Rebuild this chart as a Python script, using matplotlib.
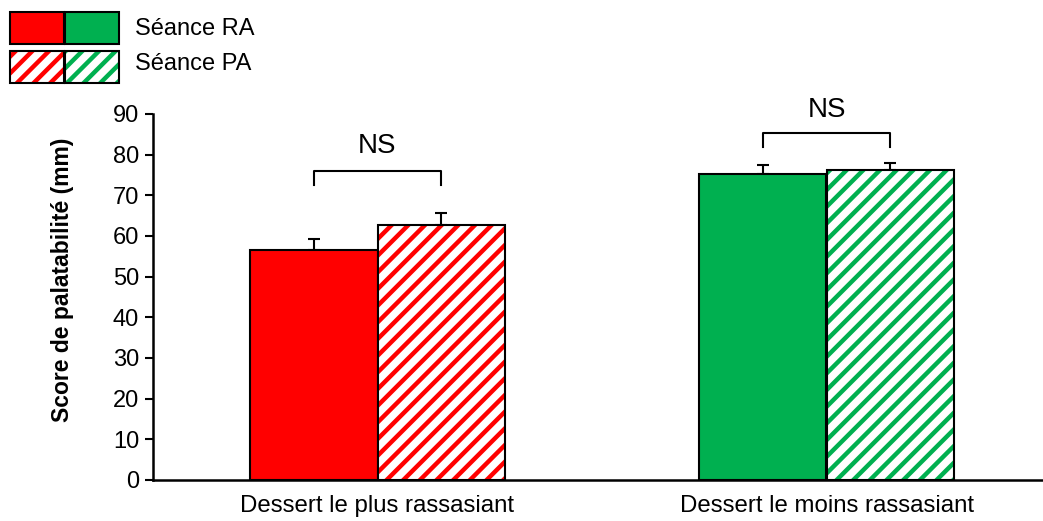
import matplotlib
matplotlib.use("Agg")
import matplotlib.pyplot as plt
from matplotlib.patches import Rectangle
import numpy as np

categories = ["Dessert le plus rassasiant", "Dessert le moins rassasiant"]
series_names = ["Séance RA", "Séance PA"]
ra_values = [56.5, 75.2]
ra_errors = [2.7, 2.2]
pa_values = [62.6, 76.3]
pa_errors = [3.1, 1.7]
colors = ["#FF0000", "#00B050"]
sig_labels = ["NS", "NS"]
bracket_y = [75.9, 85.4]
bracket_drop = [3.4, 3.5]
label_y = [82.1, 90.9]
y_ticks = [0, 10, 20, 30, 40, 50, 60, 70, 80, 90]

plt.rcParams['font.family'] = ['Liberation Sans', 'DejaVu Sans']
plt.rcParams['hatch.linewidth'] = 3.2

W, H = 1043, 521
fig = plt.figure(figsize=(W/100, H/100), dpi=100)
ax = fig.add_axes([153/W, (H-480)/H, (W-153)/W, 366/H])

x = np.arange(len(categories))
bw = 0.285
for i in range(len(categories)):
    xr = x[i] - bw/2
    xp = x[i] + bw/2
    ax.bar(xr, ra_values[i], bw, color=colors[i], edgecolor='black', linewidth=1.5, zorder=2)
    ax.bar(xp, pa_values[i], bw, color='white', edgecolor=colors[i], hatch='//', linewidth=0, zorder=2)
    ax.bar(xp, pa_values[i], bw, fill=False, edgecolor='black', linewidth=1.5, zorder=3)
    ax.errorbar(xr, ra_values[i], yerr=[[0], [ra_errors[i]]], fmt='none', ecolor='black',
                elinewidth=1.5, capsize=4, capthick=1.5, zorder=1)
    ax.errorbar(xp, pa_values[i], yerr=[[0], [pa_errors[i]]], fmt='none', ecolor='black',
                elinewidth=1.5, capsize=4, capthick=1.5, zorder=1)
    by = bracket_y[i]
    ax.plot([xr, xr, xp, xp], [by - bracket_drop[i], by, by, by - bracket_drop[i]],
            color='black', lw=1.5, clip_on=False, solid_joinstyle='round')
    ax.text(x[i], label_y[i], sig_labels[i], ha='center', va='center', fontsize=20, clip_on=False)

ax.set_xlim(-0.5, -0.5 + (W-153)/449)
ax.set_ylim(0, 90)
ax.set_yticks(y_ticks)
ax.set_xticks(x)
ax.set_xticklabels(categories, fontsize=17.3)
ax.tick_params(axis='x', length=0, pad=11)
ax.tick_params(axis='y', length=6, width=1.5, labelsize=17, direction='out', pad=4)
for s in ['top', 'right']:
    ax.spines[s].set_visible(False)
for s in ['left', 'bottom']:
    ax.spines[s].set_linewidth(1.8)
ax.set_ylabel("Score de palatabilité (mm)", fontsize=16.5, fontweight='bold')
ax.yaxis.set_label_coords((74 - 153) / (W - 153), (480 - 280) / 366)

# legend
def frect(x0, y0, w, h, **kw):
    r = Rectangle((x0/W, 1 - (y0+h)/H), w/W, h/H, transform=fig.transFigure, **kw)
    fig.patches.append(r)

for j, c in enumerate(colors):
    x0 = 10 + j*55
    frect(x0, 12, 54, 32, facecolor=c, edgecolor='black', linewidth=1.5)
    frect(x0, 51, 54, 32, facecolor='white', edgecolor=c, hatch='//', linewidth=0)
    frect(x0, 51, 54, 32, fill=False, edgecolor='black', linewidth=1.5)
fig.text(135/W, 1 - 29/H, series_names[0], fontsize=17, va='center', ha='left')
fig.text(135/W, 1 - 64/H, series_names[1], fontsize=17, va='center', ha='left')

fig.savefig("out.png", dpi=100)
